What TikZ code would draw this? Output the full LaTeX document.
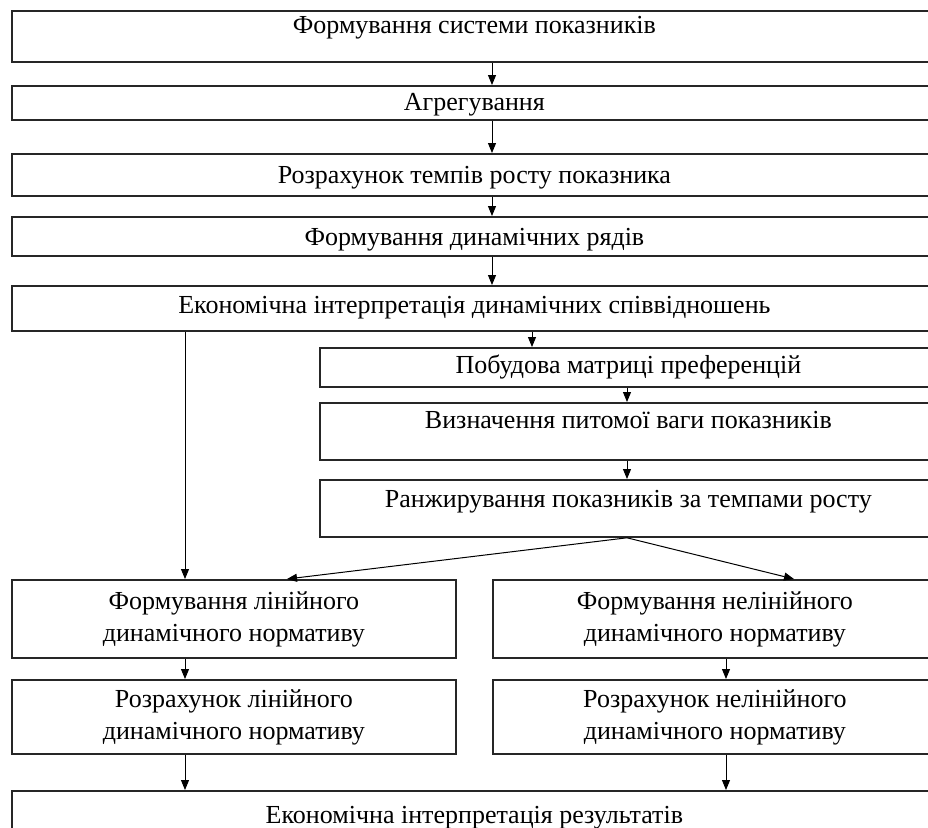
\documentclass[tikz,border=0pt]{standalone}
\usepackage{fontspec}
\setmainfont{Liberation Serif}
\usetikzlibrary{arrows.meta,positioning}

\begin{document}
\begin{tikzpicture}
[x=0.5pt, y=-0.5pt, >={Triangle[length=5pt,width=4pt]},
every node/.style={font=\fontsize{13}{16}\selectfont},
stage/.style={draw=black!85, line width=0.9pt, inner sep=0pt, anchor=north west},
pair/.style={stage, align=center, minimum height=39pt},
flow/.style={->, line width=0.5pt}
]
  \useasboundingbox (0,0) rectangle (928,827);

  % upper column
  \node[stage, minimum width=462.5pt, text height=11.5pt, text depth=14pt] (sys) at (11,10) {Формування системи показників};
  \node[stage, minimum width=462.5pt, text height=12.5pt, text depth=4.5pt] (agr) at (11,85) {Агрегування};
  \node[stage, minimum width=462.5pt, text height=15pt, text depth=6pt] (temp) at (11,153) {Розрахунок темпів росту показника};
  \node[stage, minimum width=462.5pt, text height=14.5pt, text depth=5pt] (ryad) at (11,216) {Формування динамічних рядів};
  \node[stage, minimum width=462.5pt, text height=14pt, text depth=8.5pt] (interp) at (11,285) {Економічна інтерпретація динамічних співвідношень};

  % right branch
  \node[stage, minimum width=308.5pt, text height=13pt, text depth=6.5pt] (matr) at (319,347) {Побудова матриці преференцій};
  \node[stage, minimum width=308.5pt, text height=13pt, text depth=15.5pt] (vaga) at (319,402) {Визначення питомої ваги показників};
  \node[stage, minimum width=308.5pt, text height=14pt, text depth=14.5pt] (rank) at (319,479) {Ранжирування показників за темпами росту};

  % two normative columns
  \node[pair, minimum width=222pt] (linform) at (11,579) {Формування лінійного\\динамічного нормативу};
  \node[pair, minimum width=222pt, minimum height=37pt] (linrozr) at (11,679) {Розрахунок лінійного\\динамічного нормативу};
  \node[pair, minimum width=222pt] (nlinform) at (492,579) {Формування нелінійного\\динамічного нормативу};
  \node[pair, minimum width=222pt, minimum height=37pt] (nlinrozr) at (492,679) {Розрахунок нелінійного\\динамічного нормативу};

  \node[stage, minimum width=462.5pt, text height=16.5pt, text depth=10pt] (result) at (11,790) {Економічна інтерпретація результатів};

  % columns of the connectors
  \coordinate (mid) at (492,0);
  \coordinate (c1) at (532,0);
  \coordinate (c2) at (627,0);
  \coordinate (lft) at (185,0);
  \coordinate (rgt) at (726,0);
  \coordinate (fl) at (287,0);
  \coordinate (fr) at (794,0);

  \draw[flow] (sys.south -| mid) -- (agr.north -| mid);
  \draw[flow] (agr.south -| mid) -- (temp.north -| mid);
  \draw[flow] (temp.south -| mid) -- (ryad.north -| mid);
  \draw[flow] (ryad.south -| mid) -- (interp.north -| mid);
  \draw[flow] (interp.south -| c1) -- (matr.north -| c1);
  \draw[flow] (matr.south -| c2) -- (vaga.north -| c2);
  \draw[flow] (vaga.south -| c2) -- (rank.north -| c2);
  \draw[flow] (rank.south -| c2) -- (linform.north -| fl);
  \draw[flow] (rank.south -| c2) -- (nlinform.north -| fr);
  \draw[flow] (interp.south -| lft) -- (linform.north -| lft);
  \draw[flow] (linform.south -| lft) -- (linrozr.north -| lft);
  \draw[flow] (linrozr.south -| lft) -- (result.north -| lft);
  \draw[flow] (nlinform.south -| rgt) -- (nlinrozr.north -| rgt);
  \draw[flow] (nlinrozr.south -| rgt) -- (result.north -| rgt);
\end{tikzpicture}
\end{document}
